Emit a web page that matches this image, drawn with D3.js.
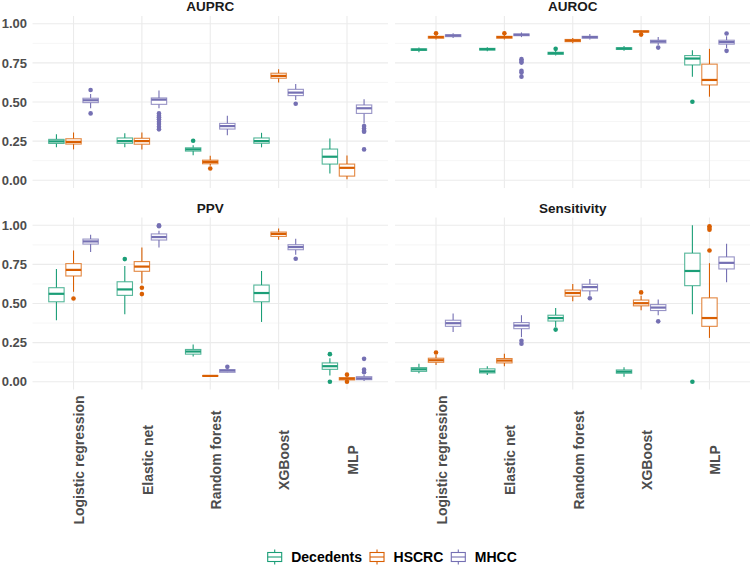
<!DOCTYPE html>
<html>
<head>
<meta charset="utf-8">
<script src="https://cdn.jsdelivr.net/npm/d3@7"></script>
<style>
  body { margin: 0; background: #fff; }
  svg { font-family: "Liberation Sans", Arial, sans-serif; }
</style>
</head>
<body>
<svg id="chart" width="750" height="565"></svg>
<script>
const models = ['Logistic regression', 'Elastic net', 'Random forest', 'XGBoost', 'MLP'];
const cohorts = ['Decedents', 'HSCRC', 'MHCC'];
const metrics = ['AUPRC', 'AUROC', 'PPV', 'Sensitivity'];
const cohortColors = ['#1b9e77', '#d95f02', '#7570b3'];
const yTicks = [0, 0.25, 0.5, 0.75, 1];
const yMinorTicks = [0.125, 0.375, 0.625, 0.875];

// [lower whisker, q1, median, q3, upper whisker], per model, per cohort
const auprcBoxes = [
  [[0.21, 0.235, 0.248, 0.261, 0.293], [0.197, 0.231, 0.245, 0.265, 0.305], [0.46, 0.496, 0.511, 0.524, 0.551]],
  [[0.21, 0.236, 0.25, 0.27, 0.3], [0.197, 0.23, 0.25, 0.268, 0.305], [0.46, 0.485, 0.515, 0.526, 0.573]],
  [[0.16, 0.186, 0.197, 0.207, 0.224], [0.092, 0.105, 0.117, 0.128, 0.156], [0.288, 0.327, 0.346, 0.363, 0.412]],
  [[0.21, 0.236, 0.25, 0.27, 0.303], [0.624, 0.652, 0.667, 0.684, 0.71], [0.513, 0.541, 0.56, 0.581, 0.615]],
  [[0.043, 0.103, 0.15, 0.199, 0.267], [0.006, 0.026, 0.079, 0.103, 0.158], [0.363, 0.427, 0.46, 0.481, 0.517]]
];
const auprcOutliers = [
  [[], [], [0.577, 0.427]],
  [[], [], [0.427, 0.412, 0.402, 0.389, 0.374, 0.359, 0.342, 0.325]],
  [[0.252], [0.075], []],
  [[], [], [0.489]],
  [[], [], [0.346, 0.331, 0.316, 0.31, 0.197]]
];

const aurocBoxes = [
  [[0.818, 0.83, 0.835, 0.84, 0.848], [0.9, 0.908, 0.915, 0.92, 0.93], [0.91, 0.918, 0.925, 0.93, 0.94]],
  [[0.825, 0.832, 0.838, 0.843, 0.85], [0.9, 0.908, 0.915, 0.92, 0.93], [0.915, 0.924, 0.93, 0.935, 0.945]],
  [[0.797, 0.805, 0.812, 0.818, 0.83], [0.875, 0.886, 0.893, 0.9, 0.91], [0.9, 0.908, 0.915, 0.92, 0.935]],
  [[0.828, 0.836, 0.842, 0.847, 0.858], [0.94, 0.947, 0.951, 0.955, 0.96], [0.865, 0.878, 0.887, 0.895, 0.915]],
  [[0.662, 0.737, 0.778, 0.797, 0.831], [0.534, 0.609, 0.641, 0.742, 0.84], [0.845, 0.87, 0.883, 0.895, 0.92]]
];
const aurocOutliers = [
  [[], [0.94], []],
  [[], [0.94], [0.774, 0.763, 0.752, 0.7, 0.688, 0.662]],
  [[0.84], [], []],
  [[], [0.931], [0.848]],
  [[0.502], [], [0.938, 0.827]]
];

const ppvBoxes = [
  [[0.393, 0.511, 0.562, 0.601, 0.721], [0.575, 0.676, 0.715, 0.755, 0.839], [0.829, 0.88, 0.897, 0.912, 0.94]],
  [[0.431, 0.552, 0.59, 0.639, 0.74], [0.629, 0.706, 0.736, 0.768, 0.858], [0.858, 0.906, 0.925, 0.945, 0.966]],
  [[0.161, 0.176, 0.193, 0.206, 0.238], [0.033, 0.035, 0.037, 0.039, 0.041], [0.058, 0.06, 0.071, 0.077, 0.085]],
  [[0.382, 0.511, 0.567, 0.618, 0.708], [0.908, 0.929, 0.945, 0.957, 0.979], [0.811, 0.844, 0.861, 0.876, 0.914]],
  [[0.039, 0.079, 0.099, 0.12, 0.15], [0.003, 0.011, 0.019, 0.026, 0.035], [0.005, 0.013, 0.021, 0.032, 0.045]]
];
const ppvOutliers = [
  [[], [0.532], []],
  [[0.784], [0.601, 0.56], [1.0, 0.994]],
  [[], [], [0.095]],
  [[], [], [0.786]],
  [[0.176, 0.0], [0.045, 0.0], [0.146, 0.077, 0.06]]
];

const sensitivityBoxes = [
  [[0.054, 0.066, 0.079, 0.09, 0.114], [0.107, 0.124, 0.137, 0.15, 0.17], [0.317, 0.354, 0.374, 0.393, 0.436]],
  [[0.043, 0.056, 0.066, 0.082, 0.099], [0.099, 0.12, 0.135, 0.148, 0.178], [0.285, 0.339, 0.359, 0.378, 0.425]],
  [[0.35, 0.388, 0.407, 0.425, 0.472], [0.515, 0.547, 0.567, 0.586, 0.625], [0.55, 0.581, 0.605, 0.623, 0.657]],
  [[0.032, 0.054, 0.064, 0.075, 0.093], [0.457, 0.485, 0.502, 0.522, 0.55], [0.425, 0.455, 0.474, 0.493, 0.526]],
  [[0.431, 0.614, 0.708, 0.822, 1.0], [0.28, 0.354, 0.407, 0.536, 0.758], [0.636, 0.721, 0.76, 0.798, 0.882]]
];
const sensitivityOutliers = [
  [[], [0.187], []],
  [[], [], [0.262, 0.243]],
  [[0.333], [], [0.534]],
  [[], [0.571], [0.386]],
  [[0.0], [0.839, 0.994, 0.983, 0.972], []]
];

const panelData = {
  AUPRC: {boxes: auprcBoxes, outliers: auprcOutliers},
  AUROC: {boxes: aurocBoxes, outliers: aurocOutliers},
  PPV: {boxes: ppvBoxes, outliers: ppvOutliers},
  Sensitivity: {boxes: sensitivityBoxes, outliers: sensitivityOutliers}
};

const layout = {
  lefts: [32.5, 395],
  tops: [16, 217.5],
  w: 355.5,
  h: 172,
  xLabelCenter: 460 // vertical centre of rotated category labels
};

function flattenBoxes(metric) {
  const rows = [];
  const d = panelData[metric];
  models.forEach((m, i) => {
    cohorts.forEach((c, j) => {
      const s = d.boxes[i][j];
      rows.push({model: m, cohort: c, ci: j, lo: s[0], q1: s[1], med: s[2], q3: s[3], hi: s[4], out: d.outliers[i][j]});
    });
  });
  return rows;
}

function drawPanel(svg, metric, k) {
  const col = k % 2;
  const row = Math.floor(k / 2);
  const x0 = layout.lefts[col];
  const y0 = layout.tops[row];
  const g = svg.append('g').attr('transform', `translate(${x0},${y0})`);

  const x = d3.scalePoint().domain(models).range([0, layout.w]).padding(0.6);
  const y = d3.scaleLinear().domain([-0.05, 1.05]).range([layout.h, 0]);
  const step = x.step();
  const dodge = d3.scaleBand().domain(cohorts).range([-0.375 * step, 0.375 * step]);
  const boxW = dodge.bandwidth() * 0.9;

  // grid
  g.selectAll('.minor').data(yMinorTicks).join('line')
    .attr('x1', 0).attr('x2', layout.w)
    .attr('y1', (d) => y(d)).attr('y2', (d) => y(d))
    .attr('stroke', '#f0f0f0').attr('stroke-width', 0.6);
  g.selectAll('.major').data(yTicks).join('line')
    .attr('x1', 0).attr('x2', layout.w)
    .attr('y1', (d) => y(d)).attr('y2', (d) => y(d))
    .attr('stroke', '#ebebeb').attr('stroke-width', 1.1);
  g.selectAll('.vgrid').data(models).join('line')
    .attr('x1', (d) => x(d)).attr('x2', (d) => x(d))
    .attr('y1', 0).attr('y2', layout.h)
    .attr('stroke', '#ebebeb').attr('stroke-width', 1.1);

  // strip title
  svg.append('text')
    .attr('x', x0 + layout.w / 2).attr('y', y0 - 5)
    .attr('text-anchor', 'middle')
    .attr('font-size', 13.5).attr('font-weight', 'bold').attr('fill', '#1a1a1a')
    .text(metric);

  const rows = flattenBoxes(metric);
  const b = g.selectAll('.box').data(rows).join('g')
    .attr('transform', (d) => `translate(${x(d.model) + dodge(d.cohort) + dodge.bandwidth() / 2},0)`)
    .attr('stroke', (d) => cohortColors[d.ci]);

  b.append('line').attr('y1', (d) => y(d.hi)).attr('y2', (d) => y(d.q3)).attr('stroke-width', 1.1);
  b.append('line').attr('y1', (d) => y(d.q1)).attr('y2', (d) => y(d.lo)).attr('stroke-width', 1.1);
  b.append('rect')
    .attr('x', -boxW / 2).attr('width', boxW)
    .attr('y', (d) => y(d.q3)).attr('height', (d) => Math.max(0.5, y(d.q1) - y(d.q3)))
    .attr('fill', '#fff').attr('stroke-width', 1.1).attr('stroke-opacity', 0.75);
  b.append('line')
    .attr('x1', -boxW / 2).attr('x2', boxW / 2)
    .attr('y1', (d) => y(d.med)).attr('y2', (d) => y(d.med))
    .attr('stroke-width', 2.2);
  b.selectAll('circle').data((d) => d.out.map((v) => ({v: v, ci: d.ci}))).join('circle')
    .attr('cy', (d) => y(d.v)).attr('r', 2.3)
    .attr('stroke', 'none').attr('fill', (d) => cohortColors[d.ci]);

  // axes
  if (col === 0) {
    const ya = g.append('g')
      .call(d3.axisLeft(y).tickValues(yTicks).tickFormat(d3.format('.2f')).tickSize(0).tickPadding(5.5));
    ya.select('.domain').remove();
    ya.selectAll('text').attr('font-size', 13).attr('font-weight', 'bold').attr('fill', '#4d4d4d')
      .attr('font-family', null);
  }
  if (row === 1) {
    const xa = g.append('g').attr('transform', `translate(0,${layout.h})`)
      .call(d3.axisBottom(x).tickSize(0));
    xa.select('.domain').remove();
    xa.selectAll('text')
      .attr('y', 0).attr('dy', null)
      .attr('transform', `translate(10.3,${layout.xLabelCenter - y0 - layout.h}) rotate(-90)`)
      .attr('text-anchor', 'middle')
      .attr('font-size', 14).attr('font-weight', 'bold').attr('fill', '#4d4d4d')
      .attr('font-family', null);
  }
}

function drawLegend(svg) {
  const centre = 392;
  const keyW = 15;
  const legend = svg.append('g');
  const items = legend.selectAll('g').data(cohorts).join('g');
  items.append('text')
    .attr('font-size', 14).attr('font-weight', 'bold').attr('fill', '#000')
    .attr('y', 561.5)
    .text((d) => d);
  // measure, then place
  let cx = 0;
  const pos = [];
  items.each(function (d, i) {
    const tw = this.querySelector('text').getComputedTextLength();
    pos.push(cx);
    cx += keyW + 9 + tw + (i < cohorts.length - 1 ? 7.5 : 0);
  });
  const start = centre - cx / 2;
  items.attr('transform', (d, i) => `translate(${start + pos[i]},0)`);
  items.select('text').attr('x', keyW + 9);
  const key = items.append('g').attr('stroke', (d, i) => cohortColors[i]).attr('fill', '#fff');
  key.append('line').attr('x1', keyW / 2).attr('x2', keyW / 2).attr('y1', 549.5).attr('y2', 564.5).attr('stroke-width', 1.1);
  key.append('rect').attr('x', 0.5).attr('y', 552.5).attr('width', keyW - 1).attr('height', 9).attr('stroke-width', 1.1);
  key.append('line').attr('x1', 0.5).attr('x2', keyW - 0.5).attr('y1', 557).attr('y2', 557).attr('stroke-width', 1.1);
}

const svg = d3.select('#chart');
metrics.forEach((m, k) => drawPanel(svg, m, k));
drawLegend(svg);
</script>
</body>
</html>
